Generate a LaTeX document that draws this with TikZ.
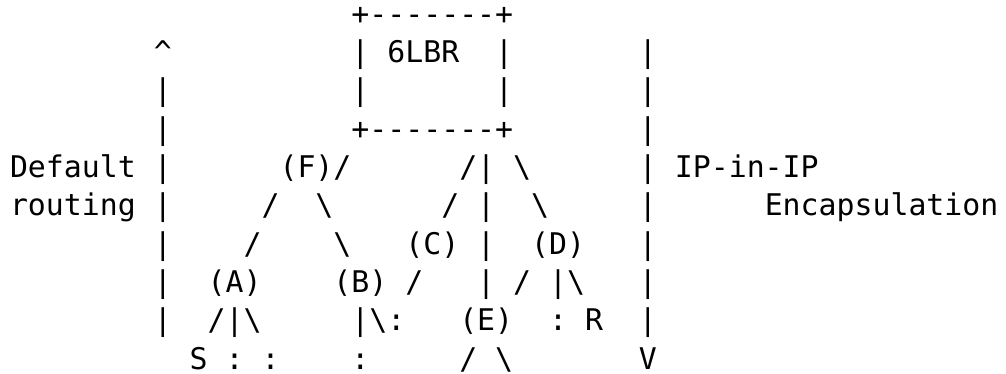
\documentclass[tikz,border=0pt]{standalone}
\usepackage{fontspec}
\setmonofont{DejaVu Sans Mono}
\tikzset{
  ascii/.style={anchor=base west, inner sep=0pt, outer sep=0pt, text=black,
    font=\ttfamily\fontsize{29.85}{30}\selectfont}
}
\newcommand\A[4]{\node[ascii] (#1) at ({10+17.97*#2},{-24.3-38.3*#3}) {#4};}
\newcommand\bs{\textbackslash}
\begin{document}
\begin{tikzpicture}[x=1pt,y=1pt]
\fill[white] (0,0) rectangle (1006,-374);
\useasboundingbox (0,0) rectangle (1006,-374);
% row 0
\A{boxtop}{19}{0}{+-------+}
% row 1
\A{upA}{8}{1}{\textasciicircum}
\A{boxl1}{19}{1}{|}
\A{lbr}{21}{1}{6LBR}
\A{boxr1}{27}{1}{|}
\A{dn1}{35}{1}{|}
% row 2
\A{up2}{8}{2}{|}
\A{boxl2}{19}{2}{|}
\A{boxr2}{27}{2}{|}
\A{dn2}{35}{2}{|}
% row 3
\A{up3}{8}{3}{|}
\A{boxbot}{19}{3}{+-------+}
\A{dn3}{35}{3}{|}
% row 4
\A{deflt}{0}{4}{Default}
\A{up4}{8}{4}{|}
\A{F}{15}{4}{(F)/}
\A{r4a}{25}{4}{/|}
\A{r4b}{28}{4}{\bs}
\A{dn4}{35}{4}{|}
\A{ipip}{37}{4}{IP-in-IP}
% row 5
\A{rout}{0}{5}{routing}
\A{up5}{8}{5}{|}
\A{r5a}{14}{5}{/}
\A{r5b}{17}{5}{\bs}
\A{r5c}{24}{5}{/}
\A{r5d}{26}{5}{|}
\A{r5e}{29}{5}{\bs}
\A{dn5}{35}{5}{|}
\A{encap}{42}{5}{Encapsulation}
% row 6
\A{up6}{8}{6}{|}
\A{r6a}{13}{6}{/}
\A{r6b}{18}{6}{\bs}
\A{C}{22}{6}{(C)}
\A{r6c}{26}{6}{|}
\A{D}{29}{6}{(D)}
\A{dn6}{35}{6}{|}
% row 7
\A{up7}{8}{7}{|}
\A{A}{11}{7}{(A)}
\A{B}{18}{7}{(B)}
\A{r7a}{22}{7}{/}
\A{r7b}{26}{7}{|}
\A{r7c}{28}{7}{/}
\A{r7d}{30}{7}{|\bs}
\A{dn7}{35}{7}{|}
% row 8
\A{up8}{8}{8}{|}
\A{r8a}{11}{8}{/|\bs}
\A{r8b}{19}{8}{|\bs:}
\A{E}{25}{8}{(E)}
\A{r8c}{30}{8}{:}
\A{R}{32}{8}{R}
\A{dn8}{35}{8}{|}
% row 9
\A{S}{10}{9}{S}
\A{r9a}{12}{9}{:}
\A{r9b}{14}{9}{:}
\A{r9c}{19}{9}{:}
\A{r9d}{25}{9}{/}
\A{r9e}{27}{9}{\bs}
\A{dnV}{35}{9}{V}
\end{tikzpicture}
\end{document}
